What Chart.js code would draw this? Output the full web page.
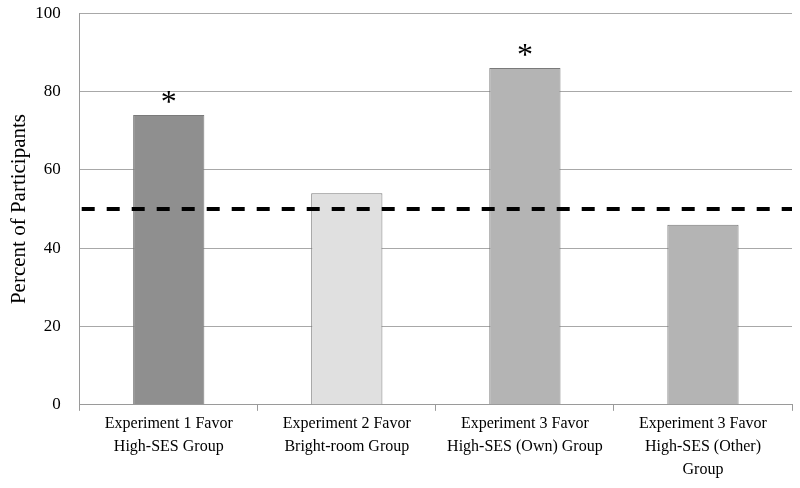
<!DOCTYPE html>
<html>
<head>
<meta charset="utf-8">
<script src="https://cdn.jsdelivr.net/npm/chart.js@4/dist/chart.umd.min.js"></script>
<style>
  html, body { margin: 0; padding: 0; background: #fff; }
  #wrap { width: 800px; height: 488px; }
</style>
</head>
<body>
<div id="wrap"><canvas id="chart"></canvas></div>
<script>
// data
const categories = [
  ['Experiment 1 Favor', 'High-SES Group'],
  ['Experiment 2 Favor', 'Bright-room Group'],
  ['Experiment 3 Favor', 'High-SES (Own) Group'],
  ['Experiment 3 Favor', 'High-SES (Other)', 'Group']
];
const percents = [74, 54, 86, 46];
const barColors = ['#8f8f8f', '#e0e0e0', '#b4b4b4', '#b4b4b4'];
const significant = [true, false, true, false];
const chanceLevel = 50;
const yTicks = [0, 20, 40, 60, 80, 100];

const serif = '"Liberation Serif", "DejaVu Serif", serif';

// dashed 50% reference line + asterisks over significant bars
const extras = {
  id: 'extras',
  afterDatasetsDraw(chart) {
    const { ctx, chartArea, scales } = chart;
    const y = scales.y.getPixelForValue(chanceLevel);
    ctx.save();
    ctx.strokeStyle = '#000';
    ctx.lineWidth = 4;
    ctx.setLineDash([13, 12]);
    ctx.beginPath();
    ctx.moveTo(chartArea.left + 2, y);
    ctx.lineTo(chartArea.right, y);
    ctx.stroke();
    ctx.setLineDash([]);

    const meta = chart.getDatasetMeta(0);
    ctx.fillStyle = '#000';
    ctx.font = '32px ' + serif;
    ctx.textAlign = 'center';
    ctx.textBaseline = 'alphabetic';
    meta.data.forEach((bar, i) => {
      if (significant[i]) ctx.fillText('*', bar.x, bar.y - 3);
    });
    ctx.restore();
  }
};

new Chart(document.getElementById('chart'), {
  type: 'bar',
  data: {
    labels: categories,
    datasets: [{
      data: percents,
      backgroundColor: barColors,
      borderColor: '#7a7a7a',
      borderWidth: 1,
      barPercentage: 0.4,
      categoryPercentage: 1.0
    }]
  },
  options: {
    responsive: true,
    maintainAspectRatio: false,
    animation: false,
    layout: { padding: { top: 0, right: 8, left: 7, bottom: 5 } },
    plugins: {
      legend: { display: false },
      tooltip: { enabled: false }
    },
    scales: {
      x: {
        grid: {
          offset: true,
          drawOnChartArea: false,
          color: '#9a9a9a',
          tickLength: 6
        },
        border: { color: '#9a9a9a' },
        ticks: {
          color: '#000',
          font: { family: serif, size: 16, lineHeight: 1.42 },
          maxRotation: 0,
          autoSkip: false,
          padding: 2
        }
      },
      y: {
        min: 0,
        max: 100,
        afterBuildTicks(axis) { axis.ticks = yTicks.map(v => ({ value: v })); },
        grid: { color: '#a8a8a8', tickColor: 'rgba(0,0,0,0)', tickLength: 16 },
        border: { color: '#9a9a9a' },
        ticks: {
          color: '#000',
          font: { family: serif, size: 17 },
          padding: 3
        },
        title: {
          display: true,
          text: 'Percent of Participants',
          color: '#000',
          font: { family: serif, size: 21 },
          padding: { top: 0, bottom: 0 }
        }
      }
    }
  },
  plugins: [extras]
});
</script>
</body>
</html>
